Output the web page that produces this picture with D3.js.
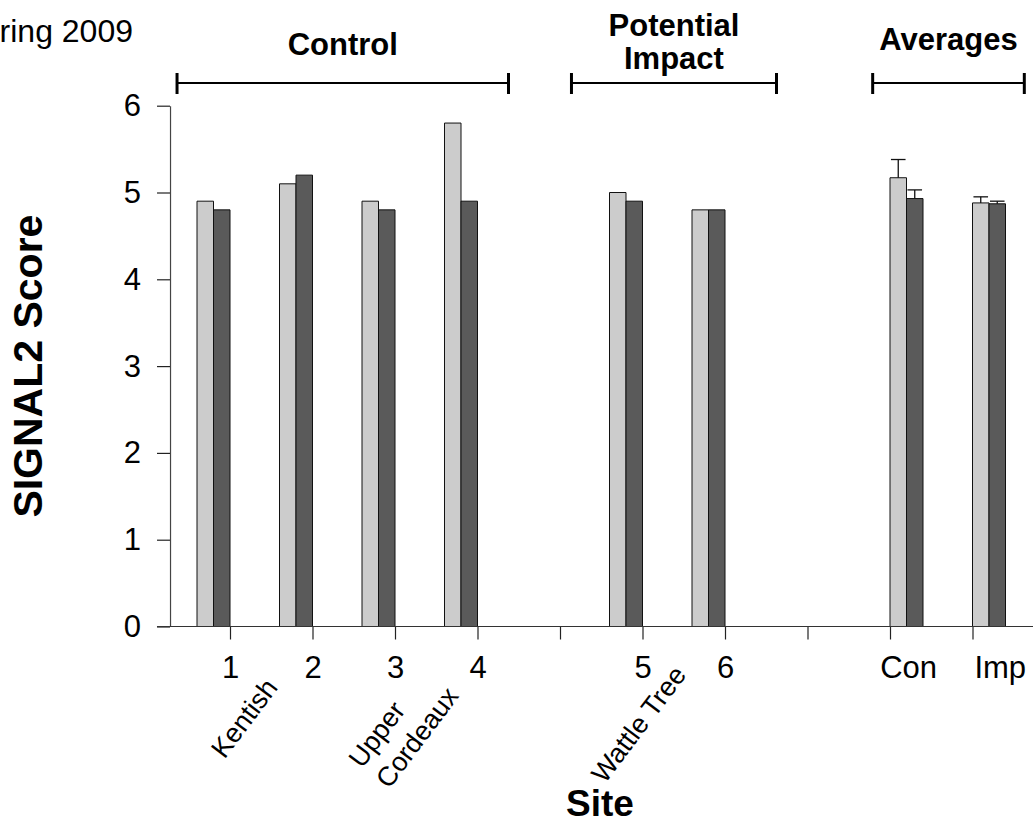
<!DOCTYPE html>
<html lang="en">
<head>
<meta charset="UTF-8">
<title>SIGNAL2 Score by Site</title>
<script src="https://cdn.jsdelivr.net/npm/d3@7"></script>
<style>
  body { margin: 0; background: #fff; }
  text { font-family: "Liberation Sans", Arial, sans-serif; fill: #000; }
  .tick text { font-size: 31px; }
  .bold { font-weight: bold; }
</style>
</head>
<body>
<svg width="1033" height="829"></svg>
<script>
// data
var categories = ["1", "2", "3", "4", "", "5", "6", "", "Con", "Imp"];
var lightValues = [4.9, 5.1, 4.9, 5.8, 0, 5.0, 4.8, 0, 5.17, 4.88];
var darkValues  = [4.8, 5.2, 4.8, 4.9, 0, 4.9, 4.8, 0, 4.93, 4.87];
var lightErrors = [null, null, null, null, null, null, null, null, 0.21, 0.07];
var darkErrors  = [null, null, null, null, null, null, null, null, 0.10, 0.03];
var yTicks = [0, 1, 2, 3, 4, 5, 6];
var groupNames = [["Control"], ["Potential", "Impact"], ["Averages"]];
var siteNames = [["Kentish"], ["Upper", "Cordeaux"], ["Wattle Tree"]];

// layout (in category-index units where it matters)
var isAverage = [false, false, false, false, false, false, false, false, true, true];
var labelShift = [0, 0, 0, 0, 0, 0, 0, 0, 0.22, 0.33];
var bracketSpans = [[-0.642, 3.376], [4.139, 6.624], [7.79, 9.628]];
var groupBaselines = [[55], [36, 68.5], [50]];
var nameCenters = [[0.17, 718], [2.1, 727], [4.95, 724]];

var svg = d3.select("svg"),
    width = +svg.attr("width"),
    height = +svg.attr("height");

var x = d3.scaleLinear().domain([0, 9]).range([230, 972.5]);
var step = x(1) - x(0);
var barW = step * 0.2;
var y = d3.scaleLinear().domain([0, 6]).range([626.5, 105.7]);
var axisX = x(-0.727);

// bars
var rows = categories.map(function(c, i) {
  var start = isAverage[i] ? x(i) : x(i) - 2 * barW;
  return {i: i, start: start, light: lightValues[i], dark: darkValues[i],
          le: lightErrors[i], de: darkErrors[i]};
});

function barPath(x0, v) {
  return "M" + x0 + "," + y(0) + "V" + y(v) + "H" + (x0 + barW) + "V" + y(0) + "Z";
}

var bars = svg.append("g").attr("stroke", "#111").attr("stroke-width", 1);
bars.selectAll("path.light").data(rows).enter().append("path")
    .attr("class", "light")
    .attr("d", function(d) { return barPath(d.start, d.light); })
    .attr("fill", "#cccccc");
bars.selectAll("path.dark").data(rows).enter().append("path")
    .attr("class", "dark")
    .attr("d", function(d) { return barPath(d.start + barW, d.dark); })
    .attr("fill", "#5a5a5a");

// error bars (upper only)
var errs = [];
rows.forEach(function(d) {
  if (d.le != null) errs.push({cx: d.start + barW / 2, v: d.light, e: d.le});
  if (d.de != null) errs.push({cx: d.start + barW * 1.5, v: d.dark, e: d.de});
});
var eg = svg.append("g").attr("stroke", "#111").attr("stroke-width", 1.3);
eg.selectAll("line.v").data(errs).enter().append("line")
    .attr("x1", function(d) { return d.cx; }).attr("x2", function(d) { return d.cx; })
    .attr("y1", function(d) { return y(d.v); }).attr("y2", function(d) { return y(d.v + d.e); });
eg.selectAll("line.c").data(errs).enter().append("line")
    .attr("x1", function(d) { return d.cx - 7.3; }).attr("x2", function(d) { return d.cx + 7.3; })
    .attr("y1", function(d) { return y(d.v + d.e); }).attr("y2", function(d) { return y(d.v + d.e); });

// y axis
var yAxis = svg.append("g")
    .attr("transform", "translate(" + axisX + ",0)")
    .call(d3.axisLeft(y).tickValues(yTicks).tickFormat(d3.format("d"))
      .tickSize(13).tickSizeOuter(0).tickPadding(16));
yAxis.select(".domain").attr("stroke", "#444").attr("stroke-width", 1.2);
yAxis.selectAll(".tick line").attr("stroke", "#222").attr("stroke-width", 1.2);

// x axis
var xAxis = svg.append("g")
    .attr("transform", "translate(0," + y(0) + ")")
    .call(d3.axisBottom(x).tickValues(d3.range(categories.length))
      .tickFormat(function(i) { return categories[i]; })
      .tickSize(13).tickPadding(16));
xAxis.select(".domain").remove();
xAxis.selectAll(".tick line").attr("stroke", "#222").attr("stroke-width", 1.2);
xAxis.selectAll(".tick text").attr("x", function(i) { return labelShift[i] * step; });
xAxis.append("line")
    .attr("x1", x(-0.885)).attr("x2", width)
    .attr("stroke", "#333").attr("stroke-width", 1.2);

// group brackets
var br = svg.append("g").attr("stroke", "#000");
bracketSpans.forEach(function(s, k) {
  var x0 = x(s[0]), x1 = x(s[1]);
  br.append("line").attr("x1", x0).attr("x2", x1).attr("y1", 83).attr("y2", 83).attr("stroke-width", 2.2);
  br.append("line").attr("x1", x0).attr("x2", x0).attr("y1", 73).attr("y2", 94).attr("stroke-width", 3);
  br.append("line").attr("x1", x1).attr("x2", x1).attr("y1", 73).attr("y2", 94).attr("stroke-width", 3);
  groupNames[k].forEach(function(t, j) {
    svg.append("text").attr("class", "bold")
      .attr("x", (x0 + x1) / 2).attr("y", groupBaselines[k][j])
      .attr("text-anchor", "middle").style("font-size", "31px")
      .text(t);
  });
});

// rotated site names
siteNames.forEach(function(lines, k) {
  var g = svg.append("g")
      .attr("transform", "translate(" + x(nameCenters[k][0]) + "," + nameCenters[k][1] + ") rotate(-53)");
  var lineH = 34;
  var texts = lines.map(function(t, j) {
    return g.append("text").style("font-size", "27px")
      .attr("y", (j - (lines.length - 1) / 2) * lineH + 9.5)
      .text(t);
  });
  var maxL = d3.max(texts, function(t) { return t.node().getComputedTextLength(); });
  texts.forEach(function(t) { t.attr("x", -maxL / 2); });
});

// titles
svg.append("text").attr("x", 133).attr("y", 42.3).attr("text-anchor", "end")
    .style("font-size", "32px").text("Spring 2009");
svg.append("text").attr("class", "bold")
    .attr("transform", "translate(42," + y(3) + ") rotate(-90)")
    .attr("text-anchor", "middle").style("font-size", "41px")
    .text("SIGNAL2 Score");
svg.append("text").attr("class", "bold")
    .attr("x", 600).attr("y", 816).attr("text-anchor", "middle")
    .style("font-size", "37px").text("Site");
</script>
</body>
</html>
